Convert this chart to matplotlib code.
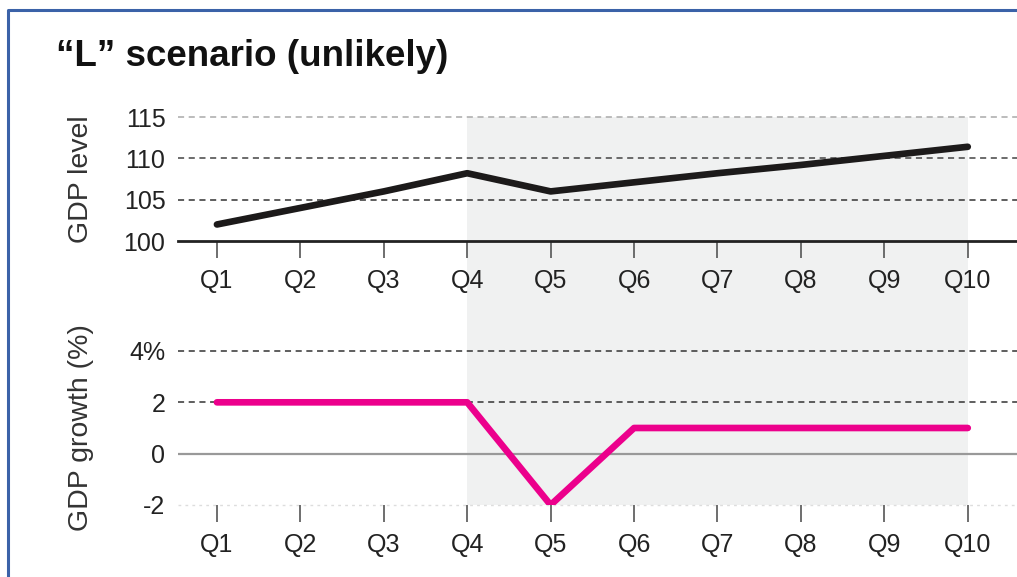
import numpy as np
import matplotlib.pyplot as plt
from matplotlib.patches import Rectangle
from matplotlib.lines import Line2D

plt.rcParams['font.family'] = ['Liberation Sans', 'DejaVu Sans']

quarters = ['Q1', 'Q2', 'Q3', 'Q4', 'Q5', 'Q6', 'Q7', 'Q8', 'Q9', 'Q10']
gdp_level = [102, 104, 106, 108.2, 106, 107.1, 108.2, 109.2, 110.3, 111.4]
gdp_growth = [2, 2, 2, 2, -2, 1, 1, 1, 1, 1]
shade_from, shade_to = 3, 9  # Q4 .. Q10

x = np.arange(len(quarters))

fig = plt.figure(figsize=(10.17, 5.77), dpi=100)
ax1 = fig.add_axes([0.175, 0.5823, 0.825, 0.2149])
ax2 = fig.add_axes([0.175, 0.1248, 0.825, 0.2669])

for ax in (ax1, ax2):
    ax.set_xlim(-0.467, 9.59)
    ax.set_xticks(x)
    ax.set_xticklabels(quarters)
    ax.tick_params(axis='x', length=12, width=1.2, color='#555555', pad=8,
                   labelsize=18, labelcolor='#222222')
    ax.tick_params(axis='y', length=0, pad=9, labelsize=18, labelcolor='#222222')
    for s in ax.spines.values():
        s.set_visible(False)
    ax.patch.set_alpha(0)

# top panel
ax1.set_ylim(100, 115)
ax1.set_yticks([100, 105, 110, 115])
for v, c in [(105, '#333333'), (110, '#444444'), (115, '#aaaaaa')]:
    ax1.axhline(v, color=c, lw=1.1, ls=(0, (4, 3)), clip_on=False, zorder=1)
ax1.spines['bottom'].set_visible(True)
ax1.spines['bottom'].set_linewidth(2)
ax1.spines['bottom'].set_color('#222222')
ax1.plot(x, gdp_level, color='#1c1a1a', lw=4.8, solid_capstyle='round', zorder=3)
ax1.set_ylabel('GDP level', fontsize=20.5, color='#333333', labelpad=24)

# bottom panel
ax2.set_ylim(-2, 4)
ax2.set_yticks([-2, 0, 2, 4])
ax2.set_yticklabels(['-2', '0', '2', '4%'])
for v in (2, 4):
    ax2.axhline(v, color='#333333', lw=1.1, ls=(0, (4, 3)), clip_on=False, zorder=1)
ax2.axhline(0, color='#999999', lw=1.6, zorder=1)
ax2.axhline(-2, color='#dddddd', lw=1, ls=(0, (2, 3)), clip_on=False, zorder=1)
ax2.plot(x, gdp_growth, color='#ec008c', lw=4.8, solid_capstyle='round', zorder=3)
ax2.set_ylabel('GDP growth (%)', fontsize=20.5, color='#333333', labelpad=24)
ax1.yaxis.set_label_coords(-0.1, 0.5)
ax2.yaxis.set_label_coords(-0.1, 0.5)

# shaded forecast band across both panels
fig.canvas.draw()
inv = fig.transFigure.inverted()
x0, y_top = inv.transform(ax1.transData.transform((shade_from, 115)))
x1, y_bot = inv.transform(ax2.transData.transform((shade_to, -2)))
fig.patches.append(Rectangle((x0, y_bot), x1 - x0, y_top - y_bot,
                             transform=fig.transFigure, facecolor='#f0f1f1',
                             edgecolor='none', zorder=-5))

fig.text(0.055, 0.902, '\u201cL\u201d scenario (unlikely)', fontsize=26.5,
         fontweight='bold', color='#111111', va='center', ha='left')

# blue frame
fig.lines.append(Line2D([0.0075, 0.0075, 1.0], [0.0, 0.982, 0.982],
                        transform=fig.transFigure, color='#3b62a8', lw=2.2))

fig.savefig('out.png', dpi=100)
